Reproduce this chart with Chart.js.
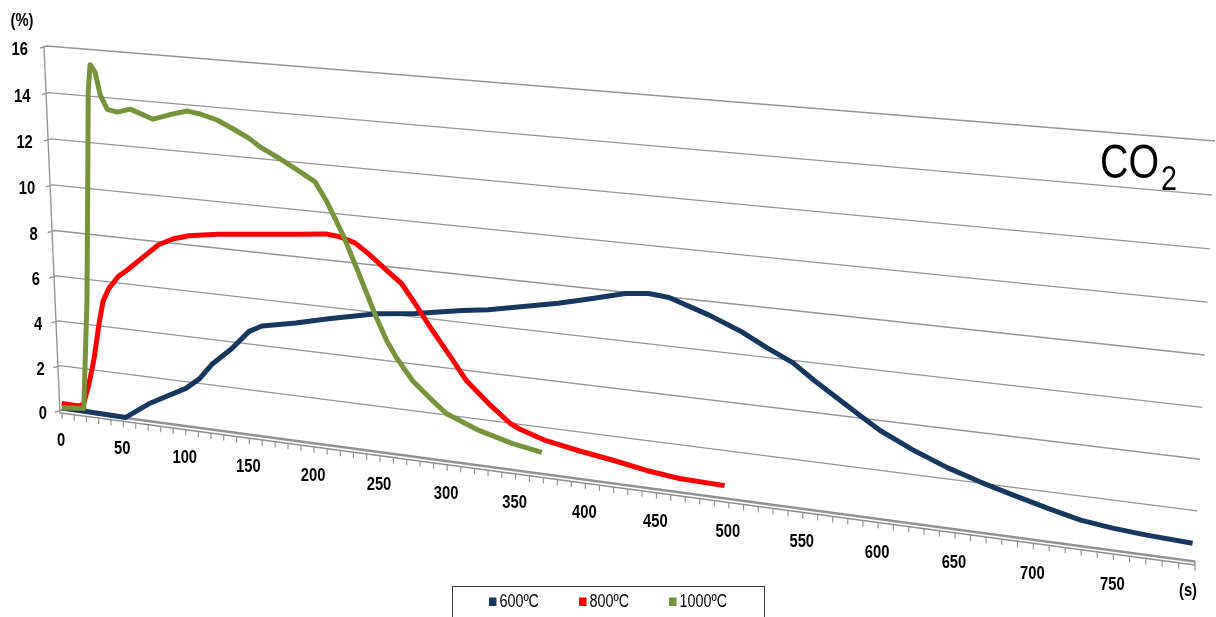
<!DOCTYPE html>
<html>
<head>
<meta charset="utf-8">
<title>CO2</title>
<script src="https://cdn.jsdelivr.net/npm/chart.js@4.4.1/dist/chart.umd.min.js"></script>
<style>
  html, body { margin: 0; padding: 0; background: #ffffff; }
  canvas { display: block; }
</style>
</head>
<body>
<canvas id="co2" width="1216" height="617"></canvas>
<script>
// ---- data -----------------------------------------------------------------
const seriesLabels = ['600ºC', '800ºC', '1000ºC'];
const seriesColors = ['#17375E', '#FF0000', '#77933C'];

const time600 = [0, 52, 71, 101, 112, 122, 138, 152, 162, 188, 213, 249, 278, 312, 331, 381, 405, 428, 444, 458,
                 485, 508, 524, 542, 556, 588, 600, 621, 644, 665, 686, 708, 729, 749, 770, 798];
const co2_600 = [0.1, 0.05, 0.8, 1.7, 2.2, 2.9, 3.7, 4.55, 4.85, 5.15, 5.5, 5.95, 6.15, 6.5, 6.65, 7.25, 7.6, 7.95, 8.05, 7.98,
                 7.45, 6.9, 6.4, 5.9, 5.3, 4.05, 3.6, 3.0, 2.45, 2.05, 1.7, 1.35, 1.05, 0.9, 0.8, 0.72];

const time800 = [0, 14, 18, 23, 28, 33, 37, 42, 50, 58, 71, 83, 95, 107, 130, 163, 189, 212, 222, 234,
                 244, 259, 268, 278, 288, 302, 315, 331, 346, 353, 372, 396, 419, 443, 466, 497];
const co2_800 = [0.3, 0.28, 0.4, 1.33, 2.5, 4.05, 5.1, 5.7, 6.28, 6.64, 7.28, 7.87, 8.2, 8.4, 8.6, 8.8, 8.95, 9.1, 9.05, 8.85,
                 8.45, 7.75, 7.35, 6.55, 5.7, 4.6, 3.55, 2.7, 2.0, 1.8, 1.45, 1.2, 1.0, 0.75, 0.6, 0.55];

const time1000 = [0, 18, 24, 29.5, 31.5, 33.8, 37.6, 41, 46.2, 54, 64.3, 69.7, 82.1, 97.8, 108.8, 118.8, 131.7, 143.7, 156.5, 164,
                  178.9, 193.7, 204.8, 213.5, 225, 235, 244.3, 249.2, 256.5, 263.7, 275.3, 287.6, 300, 324, 348, 369];
const co2_1000 = [0.1, 0.2, 5.0, 11.6, 14.15, 15.35, 15.05, 14.1, 13.5, 13.42, 13.6, 13.5, 13.26, 13.56, 13.74, 13.66, 13.47, 13.16, 12.8, 12.5,
                  12.08, 11.62, 11.26, 10.47, 9.15, 7.78, 6.45, 5.76, 4.84, 4.16, 3.27, 2.64, 2.05, 1.51, 1.14, 0.93];

const xTickValues = [0, 50, 100, 150, 200, 250, 300, 350, 400, 450, 500, 550, 600, 650, 700, 750];
const xTickLabels = ['0', '50', '100', '150', '200', '250', '300', '350', '400', '450', '500', '550', '600', '650', '700', '750'];
const yTickValues = [0, 2, 4, 6, 8, 10, 12, 14, 16];
const yTickLabels = ['0', '2', '4', '6', '8', '10', '12', '14', '16'];
const xUnitLabel = '(s)';
const yUnitLabel = '(%)';

// ---- perspective of the back wall ------------------------------------------
// corners of the wall on screen: (xmin,ymin), (xmax,ymin), (xmax,ymax), (xmin,ymax)
const WALL = { p00: [62, 410], p10: [1195, 562], p11: [1215, 141], p01: [47, 46] };

function squareToQuad(p00, p10, p11, p01) {
  const [x0, y0] = p00, [x1, y1] = p10, [x2, y2] = p11, [x3, y3] = p01;
  const dx1 = x1 - x2, dx2 = x3 - x2, dx3 = x0 - x1 + x2 - x3;
  const dy1 = y1 - y2, dy2 = y3 - y2, dy3 = y0 - y1 + y2 - y3;
  const den = dx1 * dy2 - dx2 * dy1;
  const g = (dx3 * dy2 - dx2 * dy3) / den;
  const h = (dx1 * dy3 - dx3 * dy1) / den;
  return { a: x1 - x0 + g * x1, b: x3 - x0 + h * x3, c: x0,
           d: y1 - y0 + g * y1, e: y3 - y0 + h * y3, f: y0, g, h };
}
const H = squareToQuad(WALL.p00, WALL.p10, WALL.p11, WALL.p01);
function warp(s, t) {
  const w = H.g * s + H.h * t + 1;
  return { x: (H.a * s + H.b * t + H.c) / w, y: (H.d * s + H.e * t + H.f) / w };
}
// pixel inside the flat chart area -> pixel on the tilted wall
function warpPixel(chart, px, py) {
  const A = chart.chartArea;
  return warp((px - A.left) / (A.right - A.left), (A.bottom - py) / (A.bottom - A.top));
}
function wallPoint(chart, xv, yv) {
  return warpPixel(chart, chart.scales.x.getPixelForValue(xv), chart.scales.y.getPixelForValue(yv));
}

// ---- text helpers -----------------------------------------------------------
function fontAvailable(name) {
  const c = document.createElement('canvas').getContext('2d');
  const probe = 'abcdefghijklmnopqrstuvwxyz0123456789';
  c.font = '40px monospace';
  const w1 = c.measureText(probe).width;
  c.font = '40px "' + name + '", monospace';
  return c.measureText(probe).width !== w1;
}
const HAS_NARROW = fontAvailable('Liberation Sans Narrow');
const FAMILY = HAS_NARROW ? '"Liberation Sans Narrow", "Liberation Sans", sans-serif'
                          : '"Liberation Sans", Arial, sans-serif';
const SQUEEZE = HAS_NARROW ? 1 : 0.82;

function narrowText(ctx, str, x, y, size, weight, align, baseline) {
  ctx.save();
  ctx.font = weight + ' ' + size + 'px ' + FAMILY;
  ctx.textAlign = align;
  ctx.textBaseline = baseline || 'middle';
  ctx.fillStyle = '#000000';
  ctx.translate(x, y);
  ctx.scale(SQUEEZE, 1);
  ctx.fillText(str, 0, 0);
  const w = ctx.measureText(str).width * SQUEEZE;
  ctx.restore();
  return w;
}
function narrowWidth(ctx, str, size, weight) {
  ctx.save();
  ctx.font = weight + ' ' + size + 'px ' + FAMILY;
  const w = ctx.measureText(str).width * SQUEEZE;
  ctx.restore();
  return w;
}

// ---- plugin: tilts the plotted lines onto the wall and draws the 3-D frame ---
const wallPlugin = {
  id: 'wallPlugin',
  afterDatasetsUpdate(chart) {
    chart.getSortedVisibleDatasetMetas().forEach(meta => {
      meta.data.forEach(pt => {
        const p = warpPixel(chart, pt.x, pt.y);
        pt.x = p.x;
        pt.y = p.y;
      });
    });
  },
  beforeDatasetsDraw(chart) {
    const ctx = chart.ctx;
    const xs = chart.scales.x, ys = chart.scales.y;
    const xmin = xs.min, xmax = xs.max;
    ctx.save();
    ctx.lineCap = 'butt';

    // horizontal grid lines on the wall + little ticks at the left edge
    ctx.strokeStyle = '#959595';
    ctx.lineWidth = 1.4;
    yTickValues.forEach(v => {
      const a = wallPoint(chart, xmin, v), b = wallPoint(chart, xmax, v);
      ctx.beginPath();
      ctx.moveTo(a.x - 7, a.y + 2);
      ctx.lineTo(a.x, a.y);
      ctx.lineTo(b.x, b.y);
      ctx.stroke();
    });

    // vertical edge of the wall (value axis)
    const top = wallPoint(chart, xmin, ys.max);
    const bot = wallPoint(chart, xmin, 0);
    ctx.beginPath();
    ctx.moveTo(top.x - 3, top.y);
    ctx.lineTo(bot.x - 2, bot.y + 4);
    ctx.stroke();

    // thin floor slab and its tick marks
    const f0 = wallPoint(chart, xmin, 0), f1 = wallPoint(chart, xmax, 0);
    ctx.strokeStyle = '#8e8e8e';
    ctx.lineWidth = 1.3;
    ctx.beginPath();
    ctx.moveTo(f0.x, f0.y - 1); ctx.lineTo(f1.x, f1.y - 1);
    ctx.moveTo(f0.x - 1, f0.y + 3); ctx.lineTo(f1.x, f1.y + 3);
    ctx.moveTo(f1.x, f1.y - 1); ctx.lineTo(f1.x, f1.y + 3);
    ctx.stroke();
    ctx.lineWidth = 1.1;
    ctx.beginPath();
    for (let v = xmin; v <= xmax + 0.001; v += 10) {
      const p = wallPoint(chart, v, 0);
      ctx.moveTo(p.x, p.y + 3);
      ctx.lineTo(p.x, p.y + 9);
    }
    ctx.stroke();
    ctx.restore();

    // tick labels
    yTickValues.forEach((v, i) => {
      const p = wallPoint(chart, xmin, v);
      const t = (v - ys.min) / (ys.max - ys.min);
      narrowText(ctx, yTickLabels[i], p.x - 15 - 4 * t, p.y + 4, 18, 'bold', 'right');
    });
    xTickValues.forEach((v, i) => {
      const p = wallPoint(chart, v, 0);
      const s = (v - xmin) / (xmax - xmin);
      narrowText(ctx, xTickLabels[i], p.x - 1, p.y + 31 + 3 * s, 18, 'bold', 'center');
    });
    narrowText(ctx, xUnitLabel, f1.x - 7, f1.y + 29, 18, 'bold', 'center');
    narrowText(ctx, yUnitLabel, top.x - 25, top.y - 25, 18, 'bold', 'center');

    // chart title with subscript
    const cw = narrowText(ctx, 'CO', 1100, 178, 48, 'normal', 'left', 'alphabetic');
    narrowText(ctx, '2', 1100 + cw + 2, 190, 35, 'normal', 'left', 'alphabetic');
  },
  afterDraw(chart) {
    // legend box at the bottom
    const ctx = chart.ctx;
    const size = 17.5, mark = 7.5, gapMark = 3, gapItem = 40, pad = 37;
    const items = chart.data.datasets.map(ds => ({ text: ds.label, color: ds.borderColor,
      w: mark + gapMark + narrowWidth(ctx, ds.label, size, 'normal') }));
    const total = items.reduce((a, it) => a + it.w, 0) + gapItem * (items.length - 1);
    let x = chart.width / 2 - total / 2;
    const cy = 602;
    ctx.save();
    ctx.strokeStyle = '#3a3a3a';
    ctx.lineWidth = 1;
    ctx.strokeRect(Math.round(x - pad) + 0.5, 586.5, Math.round(total + 2 * pad), 40);
    ctx.restore();
    items.forEach(it => {
      ctx.fillStyle = it.color;
      ctx.fillRect(x, cy - 4.5, mark, 8.5);
      narrowText(ctx, it.text, x + mark + gapMark, cy, size, 'normal', 'left');
      x += it.w + gapItem;
    });
  }
};

// ---- chart --------------------------------------------------------------------
function series(times, values) { return times.map((t, i) => ({ x: t, y: values[i] })); }
const lineStyle = { borderWidth: 5, pointRadius: 0, tension: 0, clip: false,
                    borderJoinStyle: 'round', borderCapStyle: 'butt', fill: false };

new Chart(document.getElementById('co2'), {
  type: 'line',
  data: {
    datasets: [
      Object.assign({ label: seriesLabels[0], data: series(time600, co2_600), borderColor: seriesColors[0], backgroundColor: seriesColors[0], order: 3 }, lineStyle),
      Object.assign({ label: seriesLabels[1], data: series(time800, co2_800), borderColor: seriesColors[1], backgroundColor: seriesColors[1], order: 2 }, lineStyle),
      Object.assign({ label: seriesLabels[2], data: series(time1000, co2_1000), borderColor: seriesColors[2], backgroundColor: seriesColors[2], order: 1 }, lineStyle)
    ]
  },
  options: {
    responsive: false,
    animation: false,
    devicePixelRatio: 1,
    events: [],
    layout: { padding: { left: 100, right: 100, top: 60, bottom: 100 } },
    scales: {
      x: { type: 'linear', min: 0, max: 800, display: false },
      y: { type: 'linear', min: 0, max: 16, display: false }
    },
    plugins: { legend: { display: false }, tooltip: { enabled: false }, title: { display: false } }
  },
  plugins: [wallPlugin]
});
</script>
</body>
</html>
